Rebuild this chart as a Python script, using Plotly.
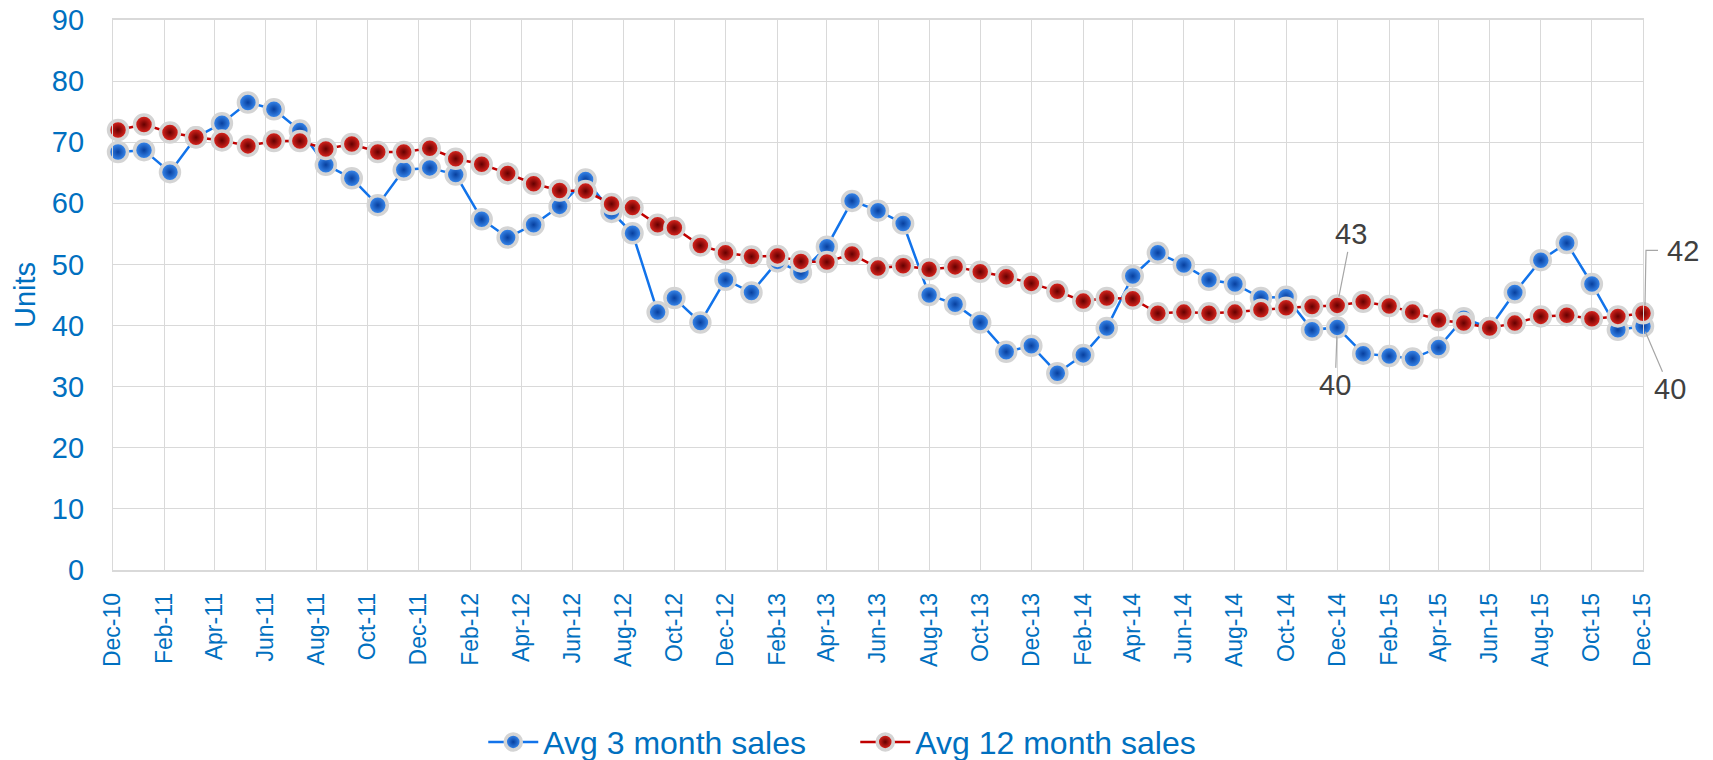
import plotly.graph_objects as go

# ---------------- data ----------------
dates = [
    "2010-12-07", "2011-01-07", "2011-02-07", "2011-03-10", "2011-04-10", "2011-05-11",
    "2011-06-11", "2011-07-12", "2011-08-12", "2011-09-12", "2011-10-13", "2011-11-13",
    "2011-12-14", "2012-01-14", "2012-02-14", "2012-03-16", "2012-04-16", "2012-05-17",
    "2012-06-17", "2012-07-18", "2012-08-12", "2012-09-11",
    "2012-10-01", "2012-11-01", "2012-12-01",
    "2013-01-01", "2013-02-01", "2013-03-01", "2013-04-01", "2013-05-01", "2013-06-01",
    "2013-07-01", "2013-08-01", "2013-09-01", "2013-10-01", "2013-11-01", "2013-12-01",
    "2014-01-01", "2014-02-01", "2014-03-01", "2014-04-01", "2014-05-01", "2014-06-01",
    "2014-07-01", "2014-08-01", "2014-09-01", "2014-10-01", "2014-11-01", "2014-12-01",
    "2015-01-01", "2015-02-01", "2015-03-01", "2015-04-01", "2015-05-01", "2015-06-01",
    "2015-07-01", "2015-08-01", "2015-09-01", "2015-10-01", "2015-11-01", "2015-12-01",
]

avg_3_month = [
    68.4, 68.7, 65.1, 70.8, 73.1, 76.5, 75.4, 71.9, 66.3, 64.1, 59.7, 65.5,
    65.8, 64.7, 57.4, 54.4, 56.5, 59.5, 63.9, 58.6, 55.1, 42.2, 44.5, 40.5,
    47.5, 45.4, 50.5, 48.7, 52.9, 60.4, 58.8, 56.7, 45.0, 43.5, 40.5, 35.7,
    36.7, 32.2, 35.2, 39.6, 48.1, 51.9, 49.9, 47.5, 46.8, 44.5, 44.7, 39.3,
    39.7, 35.4, 35.0, 34.6, 36.4, 41.2, 39.6, 45.4, 50.7, 53.5, 46.8, 39.3,
    39.9,
]

avg_12_month = [
    72.0, 72.9, 71.6, 70.8, 70.3, 69.4, 70.2, 70.2, 68.9, 69.7, 68.4, 68.4,
    69.0, 67.3, 66.4, 64.9, 63.2, 62.1, 62.0, 59.9, 59.3, 56.5, 56.0, 53.1,
    51.9, 51.3, 51.4, 50.5, 50.4, 51.7, 49.4, 49.8, 49.2, 49.6, 48.8, 48.0,
    46.9, 45.6, 44.0, 44.5, 44.4, 42.0, 42.2, 42.0, 42.2, 42.6, 42.9, 43.1,
    43.3, 43.9, 43.2, 42.2, 40.9, 40.4, 39.6, 40.4, 41.5, 41.7, 41.1, 41.5,
    42.0,
]

series_names = ["Avg 3 month sales", "Avg 12 month sales"]
y_ticks = [0, 10, 20, 30, 40, 50, 60, 70, 80, 90]
y_title = "Units"

# ---------------- style ----------------
FONT = "Liberation Sans, Arial, sans-serif"
AXIS_BLUE = "#0070c0"
GRID = "#d9d9d9"
LABEL_GREY = "#404040"
LEADER = "#a6a6a6"

fig = go.Figure()

fig.add_trace(go.Scatter(
    x=dates, y=avg_3_month, name=series_names[0], mode="lines+markers",
    line=dict(color="#1273ea", width=2.5),
    marker=dict(size=19, color="#3f92f8",
                gradient=dict(type="radial", color="#073f9e"),
                line=dict(color="#d4d4d4", width=3.5)),
    cliponaxis=False,
))
fig.add_trace(go.Scatter(
    x=dates, y=avg_12_month, name=series_names[1], mode="lines+markers",
    line=dict(color="#c00000", width=2.5),
    marker=dict(size=19, color="#ee2a22",
                gradient=dict(type="radial", color="#640000"),
                line=dict(color="#d4d4d4", width=3.5)),
    cliponaxis=False,
))

ann_font = dict(family=FONT, size=29, color=LABEL_GREY)
idx_dec14 = dates.index("2014-12-01")
annotations = [
    dict(x=dates[idx_dec14], y=avg_12_month[idx_dec14], text=f"{avg_12_month[idx_dec14]:.0f}",
         showarrow=True, arrowhead=0, arrowwidth=1.2, arrowcolor=LEADER,
         ax=14, ay=-71, standoff=9, font=ann_font),
    dict(x=dates[idx_dec14], y=avg_3_month[idx_dec14], text=f"{avg_3_month[idx_dec14]:.0f}",
         showarrow=True, arrowhead=0, arrowwidth=1.2, arrowcolor=LEADER,
         ax=-2, ay=58, standoff=9, font=ann_font),
    dict(x=dates[-1], y=avg_12_month[-1], text=f"{avg_12_month[-1]:.0f}",
         showarrow=False, xanchor="left", yanchor="middle",
         xshift=22, yshift=62, font=ann_font),
    dict(x=dates[-1], y=avg_3_month[-1], text=f"{avg_3_month[-1]:.0f}",
         showarrow=True, arrowhead=0, arrowwidth=1.2, arrowcolor=LEADER,
         ax=27, ay=63, standoff=6, font=ann_font),
    dict(xref="paper", yref="paper", x=0, y=0.5, xshift=-88, text=y_title,
         textangle=-90, showarrow=False, xanchor="center", yanchor="middle",
         font=dict(family=FONT, size=29, color=AXIS_BLUE)),
]

# elbow leader for the last 12-month label (last point sits on the right edge)
shapes = [
    dict(type="path", xref="paper", yref="y",
         xsizemode="pixel", ysizemode="pixel",
         xanchor=1, yanchor=avg_12_month[-1],
         path="M 2,8 L 3,63 L 15,63",
         line=dict(color=LEADER, width=1.2)),
]

fig.update_layout(
    width=1713, height=760,
    margin=dict(l=113, r=70, t=20, b=190, autoexpand=False),
    paper_bgcolor="white", plot_bgcolor="white",
    font=dict(family=FONT, color=AXIS_BLUE),
    showlegend=True,
    legend=dict(orientation="h", x=0.242, y=-0.313, xanchor="left", yanchor="middle",
                font=dict(family=FONT, size=32, color=AXIS_BLUE), itemwidth=50,
                entrywidth=307, entrywidthmode="pixels",
                bgcolor="rgba(0,0,0,0)"),
    annotations=annotations,
    shapes=shapes,
)

fig.update_xaxes(
    type="date", range=["2010-12-01", "2015-12-01"],
    tick0="2010-12-01", dtick="M2", tickformat="%b-%y", tickangle=-90,
    tickfont=dict(family=FONT, size=23, color=AXIS_BLUE),
    showgrid=True, gridcolor=GRID, gridwidth=1.3,
    showline=True, linecolor=GRID, linewidth=1.5, mirror=True,
    ticks="", ticklabelstandoff=12, zeroline=False, automargin=False,
)
fig.update_yaxes(
    range=[0, 90], tickvals=y_ticks,
    tickfont=dict(family=FONT, size=29, color=AXIS_BLUE),
    showgrid=True, gridcolor=GRID, gridwidth=1.3,
    showline=True, linecolor=GRID, linewidth=1.3, mirror=True,
    ticks="", ticklabelstandoff=22, zeroline=False, automargin=False,
)

fig.write_html("out.html",
               config={"displayModeBar": False},
               post_script="document.body.style.margin='0';document.body.style.padding='0';")
